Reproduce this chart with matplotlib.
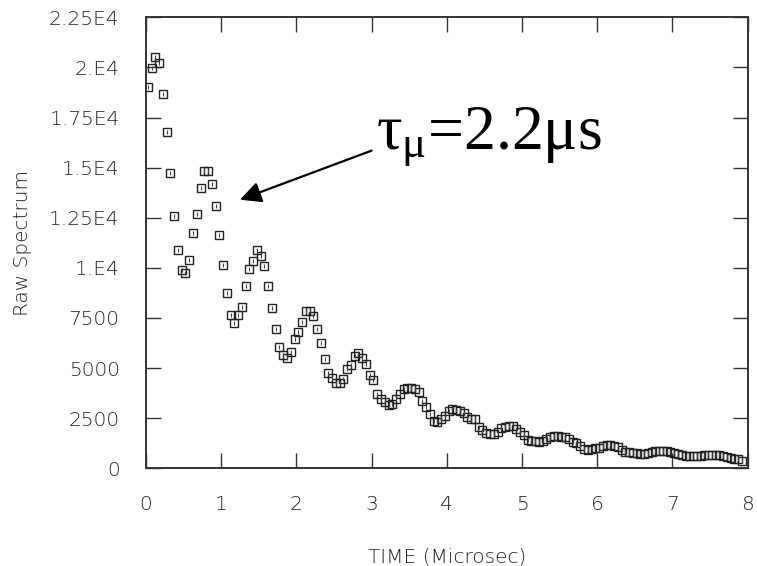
import numpy as np
import matplotlib
matplotlib.use("Agg")
from matplotlib import pyplot as plt

# time bins (microsec), 0.05 us wide, centred
dt = 0.05
counts = [
    19010, 19965, 20520, 20215, 18670, 16770, 14720, 12570, 10880, 9915,
    9765, 10380, 11735, 12700, 13965, 14830, 14830, 14195, 13070, 11625,
    10165, 8730, 7655, 7260, 7655, 8025, 9080, 9925, 10345, 10870,
    10580, 10095, 9080, 8015, 6930, 6045, 5655, 5500, 5805, 6440,
    6780, 7290, 7835, 7865, 7575, 6950, 6255, 5440, 4760, 4520,
    4265, 4265, 4450, 4950, 5160, 5605, 5735, 5480, 5210, 4680,
    4425, 3715, 3465, 3300, 3180, 3210, 3465, 3705, 3935, 4025,
    4015, 3965, 3815, 3380, 3050, 2720, 2370, 2330, 2470, 2630,
    2870, 2960, 2920, 2850, 2750, 2550, 2450, 2450, 2075, 1915,
    1785, 1695, 1695, 1805, 2015, 2075, 2130, 2115, 1965, 1830,
    1680, 1430, 1380, 1350, 1330, 1380, 1480, 1580, 1615, 1615,
    1580, 1550, 1450, 1330, 1250, 1115, 980, 915, 950, 1000,
    1030, 1100, 1165, 1165, 1115, 1050, 915, 830, 800, 780,
    750, 730, 730, 760, 800, 850, 870, 880, 860, 820,
    760, 700, 650, 620, 610, 600, 610, 630, 640, 660,
    670, 660, 640, 610, 560, 510, 470, 440, 380,
]
time_us = dt / 2 + dt * np.arange(len(counts))

yticks = [0, 2500, 5000, 7500, 10000, 12500, 15000, 17500, 20000, 22500]
ytick_labels = ["0", "2500", "5000", "7500", "1.E4", "1.25E4", "1.5E4",
                "1.75E4", "2.E4", "2.25E4"]
xticks = [0, 1, 2, 3, 4, 5, 6, 7, 8]

plt.rcParams['mathtext.fontset'] = 'custom'
plt.rcParams['mathtext.rm'] = 'Liberation Serif'
plt.rcParams['mathtext.it'] = 'Liberation Serif'

fig = plt.figure(figsize=(7.57, 5.66), dpi=100)
ax = fig.add_axes([0.1929, 0.1726, 0.7946, 0.7968])

# open squares with a little bar inside, like the original plotter output
ax.plot(time_us, counts, ls='none', marker='s', ms=5.6, mfc='none',
        mec='#222222', mew=1.0)
ax.plot(time_us, counts, ls='none', marker='|', ms=3, mec='#444444', mew=0.8)

ax.set_xlim(0, 8)
ax.set_ylim(0, 22500)
ax.set_xticks(xticks)
ax.set_xticklabels([str(t) for t in xticks])
ax.set_yticks(yticks)
ax.set_yticklabels(ytick_labels)

tick_font = dict(family='DejaVu Sans', weight='light', size=14.5)
for lab in ax.get_xticklabels() + ax.get_yticklabels():
    lab.set_fontproperties(matplotlib.font_manager.FontProperties(**tick_font))

ax.tick_params(axis='both', direction='in', length=11, width=1.0,
               color='#333333', labelcolor='#222222')
ax.tick_params(axis='x', pad=19)
ax.tick_params(axis='y', pad=19)
ax.tick_params(top=True, right=True)

for sp in ax.spines.values():
    sp.set_linewidth(1.4)
    sp.set_color('#333333')

ax.set_xlabel('TIME (Microsec)', fontdict=tick_font, labelpad=24, color='#222222')
ax.set_ylabel('Raw Spectrum', fontdict=tick_font, labelpad=12, color='#222222')

# decay-time note with arrow
ax.annotate('', xy=(1.25, 13400), xytext=(3.0, 15850),
            arrowprops=dict(arrowstyle='-|>', mutation_scale=32, lw=1.6,
                            color='black', shrinkA=0, shrinkB=0))
ax.text(3.06, 15950, r'$\tau_{\mu}$=2.2μs', family='Liberation Serif',
        fontsize=46, ha='left', va='baseline', color='black')

fig.savefig('out.png', dpi=100)
